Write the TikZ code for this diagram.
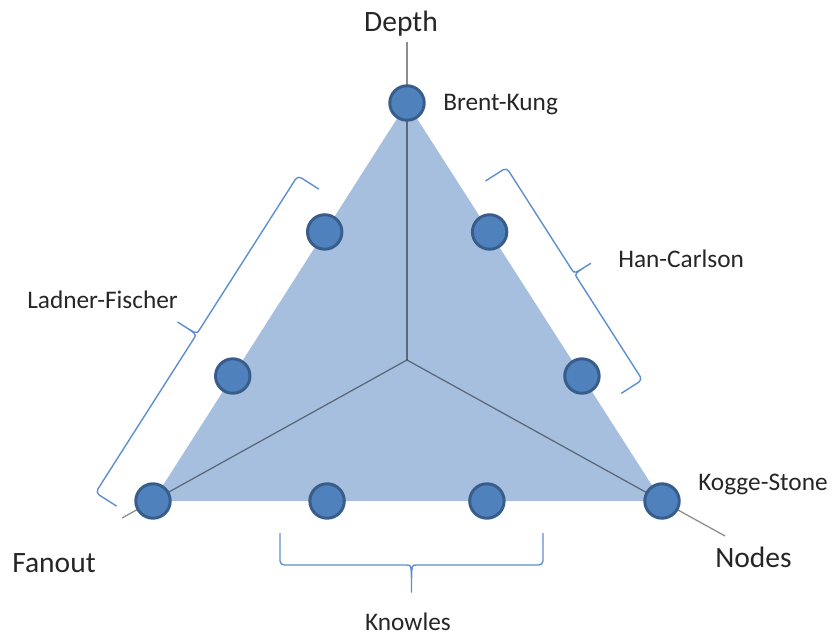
\documentclass[tikz,border=0pt]{standalone}
\usepackage{fontspec}
\setmainfont{Carlito}
\usetikzlibrary{calc}
\definecolor{facefill}{HTML}{A7BFDE}
\definecolor{dotfill}{HTML}{4F81BD}
\definecolor{dotline}{HTML}{385D8A}
\definecolor{bracecol}{HTML}{5E8FD0}
\definecolor{labeltext}{HTML}{262626}
\tikzset{
  dot/.style={circle, fill=dotfill, draw=dotline, line width=2.1pt, minimum size=24.5pt, inner sep=0pt},
  axis/.style={draw=black, draw opacity=0.45, line width=0.9pt},
  bracket/.style={draw=bracecol, line width=1pt, rounded corners=3pt},
  axislabel/.style={font=\fontsize{21}{25}\selectfont, text=labeltext, inner sep=0pt},
  adder/.style={font=\fontsize{18}{22}\selectfont, text=labeltext, inner sep=0pt}
}
% bracket along the local x axis: from, to, offset, hook, tip
\newcommand{\bracket}[5]{%
  \pgfmathsetmacro{\bmid}{(#1+#2)/2}
  \draw[bracket] (#1,#3-#4) -- (#1,#3) -- (\bmid-9,#3) .. controls (\bmid,#3) .. (\bmid,#3+#5)
    .. controls (\bmid,#3) .. (\bmid+9,#3) -- (#2,#3) -- (#2,#3-#4);
}
\begin{document}
\begin{tikzpicture}[x=0.025cm, y=-0.025cm]
  \useasboundingbox (0,0) rectangle (835,637);
  % corners of the face
  \coordinate (top) at (407,103);
  \coordinate (left) at (153,501);
  \coordinate (right) at (662,501);
  \coordinate (c) at (407,360);
  \coordinate (depthend) at (407,42);
  \coordinate (fanoutend) at (122,518);
  \coordinate (nodesend) at (725,536);

  \fill[facefill] (top) -- (left) -- (right) -- cycle;
  \draw[axis] (c) -- (depthend);
  \draw[axis] (c) -- (fanoutend);
  \draw[axis] (c) -- (nodesend);

  % prefix adders
  \node[dot] (bk) at (top) {};
  \node[dot] (lf) at (left) {};
  \node[dot] (ks) at (right) {};
  \foreach \f/\g [count=\i] in {0.324/0.342,0.686/0.656} {
    \node[dot] (l\i) at ($(top)!\f!(left)$) {};
    \node[dot] (r\i) at ($(top)!\f!(right)$) {};
    \node[dot] (b\i) at ($(left)!\g!(right)$) {};
  }

  % labels
  \node[axislabel, anchor=base] (depth) at (401,32) {Depth};
  \node[axislabel, anchor=base west] (fanout) at (12,572) {Fanout};
  \node[axislabel, anchor=base west] (nodes) at (715,567) {Nodes};
  \node[adder, anchor=base west] (brentkung) at (443,110) {Brent-Kung};
  \node[adder, anchor=base west] (hancarlson) at (618,267) {Han-Carlson};
  \node[adder, anchor=base west] (ladner) at (27,308) {Ladner-Fischer};
  \node[adder, anchor=base west] (kogge) at (698,490) {Kogge-Stone};
  \node[adder, anchor=base] (knowles) at (408,630) {Knowles};

  % brackets
  \begin{scope}[shift={(top)}, x={(-0.01345cm,-0.021075cm)}, y={(-0.021075cm,0.01345cm)}]
    \bracket{120}{496}{53}{25}{25}
  \end{scope}
  \begin{scope}[shift={(top)}, x={(0.013475cm,-0.02105cm)}, y={(0.02105cm,0.013475cm)}]
    \bracket{108}{360}{49}{25}{22}
  \end{scope}
  \begin{scope}[shift={(0,501)}]
    \bracket{280}{543}{64}{32}{30}
  \end{scope}
\end{tikzpicture}
\end{document}
